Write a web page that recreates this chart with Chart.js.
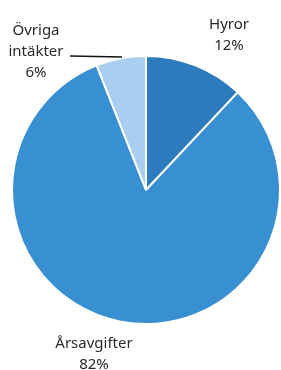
<!DOCTYPE html>
<html>
<head>
<meta charset="utf-8">
<script src="https://cdn.jsdelivr.net/npm/chart.js@4/dist/chart.umd.min.js"></script>
<style>
  html, body { margin: 0; padding: 0; background: #fff; }
  #wrap { width: 281px; height: 370px; position: relative; }
</style>
</head>
<body>
<div id="wrap"><canvas id="pie-chart"></canvas></div>
<script>
// Data
var categories = ['Hyror', 'Årsavgifter', 'Övriga intäkter'];
var shares = [12, 82, 6];
var sliceColors = ['#2b7bbd', '#3890d3', '#a9cff0'];

// Where each label block is drawn (centre x, first baseline y)
var labelSpots = [
    { x: 229, y: 29 },
    { x: 94, y: 348 },
    { x: 36, y: 35 }
];

var pieLabels = {
    id: 'pieLabels',
    afterDraw: function(chart) {
        var ctx = chart.ctx;
        ctx.save();
        ctx.fillStyle = '#2a2a2a';
        ctx.font = '15px "Noto Sans", sans-serif';
        ctx.textAlign = 'center';
        ctx.textBaseline = 'alphabetic';

        chart.data.labels.forEach(function(label, i) {
            var lines = label.split(' ');
            lines.push(chart.data.datasets[0].data[i] + '%');
            var spot = labelSpots[i];
            lines.forEach(function(line, j) {
                ctx.fillText(line, spot.x, spot.y + j * 21);
            });
        });

        // Leader line for the small slice
        ctx.strokeStyle = '#111';
        ctx.lineWidth = 1.5;
        ctx.beginPath();
        ctx.moveTo(70, 56);
        ctx.lineTo(122, 57);
        ctx.stroke();
        ctx.restore();
    }
};

new Chart(document.getElementById('pie-chart').getContext('2d'), {
    type: 'pie',
    data: {
        labels: categories,
        datasets: [{
            data: shares,
            backgroundColor: sliceColors,
            borderColor: '#fff',
            borderWidth: 2
        }]
    },
    options: {
        responsive: true,
        maintainAspectRatio: false,
        animation: false,
        layout: {
            padding: { left: 11, right: 0, top: 54, bottom: 44 }
        },
        plugins: {
            legend: { display: false },
            tooltip: { enabled: false }
        }
    },
    plugins: [pieLabels]
});
</script>
</body>
</html>
